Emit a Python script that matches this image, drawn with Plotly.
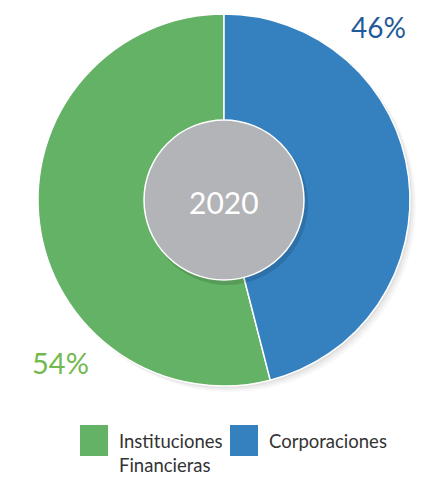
import plotly.graph_objects as go

# data
labels = ["Instituciones Financieras", "Corporaciones"]
legend_text = ["Instituciones<br>Financieras", "Corporaciones"]
values = [54, 46]
year = "2020"

colors = ["#63b265", "#3581c0"]
pct_colors = ["#72b94f", "#1f5a9a"]

W, H = 435, 480
FONT = "Lato"
OFF = 8  # page body margin


def px(x):
    return (x - OFF) / W


def py(y):
    return 1 - (y - OFF) / H


fig = go.Figure()

# green slice starts where the blue one (drawn from 12 o'clock) would end
start = 360 * values[1] / sum(values)

fig.add_trace(
    go.Pie(
        labels=labels,
        values=values,
        sort=False,
        direction="clockwise",
        rotation=start,
        marker={"colors": colors, "line": {"color": "white", "width": 1.5}},
        textinfo="none",
        hoverinfo="label+percent",
        domain={"x": [px(38), px(410)], "y": [py(386), py(14)]},
        showlegend=False,
    )
)

shapes = []
# soft shadow behind the pie
for off, a in [(6, 0.03), (4, 0.04), (2, 0.05)]:
    shapes.append(
        dict(
            type="circle", xref="paper", yref="paper", layer="below",
            x0=px(38 + off), x1=px(410 + off), y0=py(386 + off), y1=py(14 + off),
            fillcolor=f"rgba(0,0,0,{a})", line={"width": 0},
        )
    )
# shadow + centre disc
shapes.append(
    dict(
        type="circle", xref="paper", yref="paper",
        x0=px(146), x1=px(308), y0=py(285), y1=py(123),
        fillcolor="rgba(0,0,0,0.12)", line={"width": 0},
    )
)
shapes.append(
    dict(
        type="circle", xref="paper", yref="paper",
        x0=px(144), x1=px(304), y0=py(280), y1=py(120),
        fillcolor="#b3b4b7", line={"color": "white", "width": 1.5},
    )
)

center = dict(xref="paper", yref="paper", xanchor="center", yanchor="middle",
              showarrow=False)
annotations = [
    dict(text=year, x=px(224), y=py(202),
         font={"family": FONT, "size": 30, "color": "white"}, **center),
    dict(text=f"{values[1]}%", x=px(378), y=py(27),
         font={"family": FONT, "size": 28, "color": pct_colors[1]}, **center),
    dict(text=f"{values[0]}%", x=px(60), y=py(362),
         font={"family": FONT, "size": 29, "color": pct_colors[0]}, **center),
]

# legend built by hand (large swatches)
swatch_x = [80, 230]
text_x = [117, 267]
for i, lab in enumerate(legend_text):
    shapes.append(
        dict(
            type="rect", xref="paper", yref="paper",
            x0=px(swatch_x[i]), x1=px(swatch_x[i] + 28), y0=py(456), y1=py(425),
            fillcolor=colors[i], line={"width": 0},
        )
    )
    annotations.append(
        dict(text=lab, x=px(text_x[i]), y=py(428), xref="paper", yref="paper",
             xanchor="left", yanchor="top", showarrow=False, align="left",
             font={"family": FONT, "size": 18.5, "color": "#333333"})
    )

fig.update_layout(
    width=W,
    height=H,
    margin={"l": 0, "r": 0, "t": 0, "b": 0},
    paper_bgcolor="white",
    plot_bgcolor="white",
    shapes=shapes,
    annotations=annotations,
    showlegend=False,
)

fig.write_html("out.html")
